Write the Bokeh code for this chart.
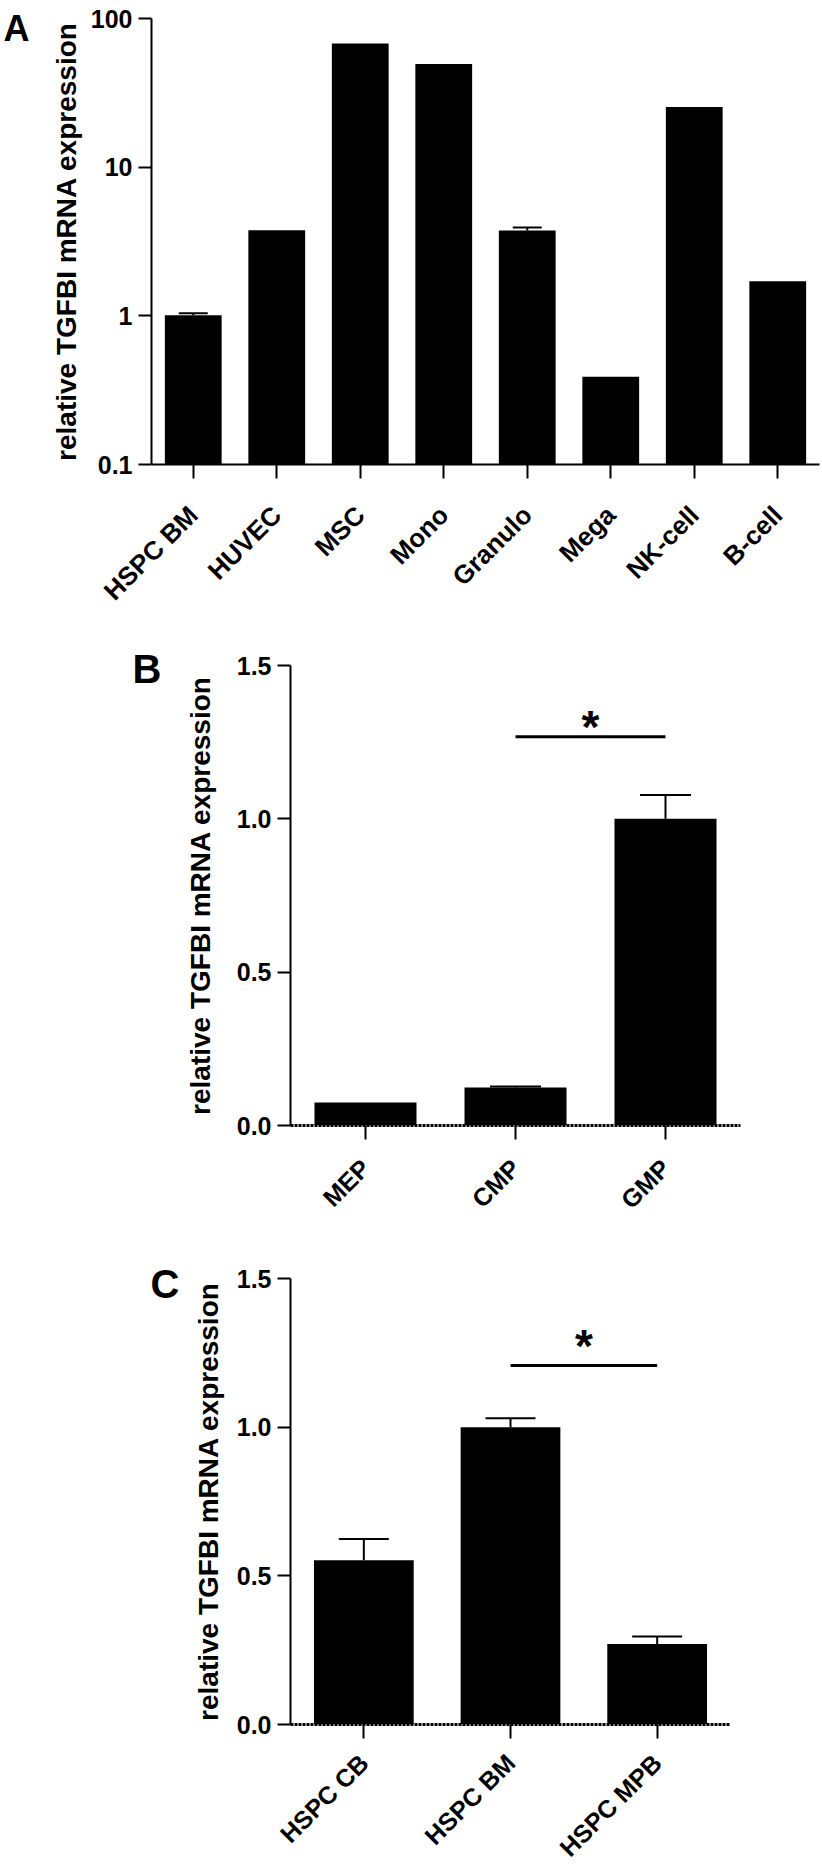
import math
from bokeh.plotting import figure
from bokeh.models import (FactorRange, Range1d, FixedTicker, CustomJSTickFormatter,
                          NumeralTickFormatter, Whisker, TeeHead, ColumnDataSource, LinearAxis)
from bokeh.embed import file_html
from bokeh.resources import INLINE
from bokeh.core.properties import value

FONT = "Liberation Sans"
YLABEL = "relative TGFBI mRNA expression"

# ---- Panel A data (log scale) ----
a_cats = ["HSPC BM", "HUVEC", "MSC", "Mono", "Granulo", "Mega", "NK-cell", "B-cell"]
a_vals = [1.01, 3.77, 68.0, 49.5, 3.75, 0.39, 25.4, 1.71]
a_errs = [0.03, 0.0, 0.0, 0.0, 0.18, 0.0, 0.0, 0.0]
a_ticks = [0.1, 1, 10, 100]

# ---- Panel B data ----
b_cats = ["MEP", "CMP", "GMP"]
b_vals = [0.075, 0.124, 1.0]
b_errs = [0.0, 0.003, 0.078]
b_sig = ["CMP", "GMP"]
b_sig_y = 1.268

# ---- Panel C data ----
c_cats = ["HSPC CB", "HSPC BM", "HSPC MPB"]
c_vals = [0.552, 1.0, 0.271]
c_errs = [0.072, 0.03, 0.025]
c_sig = ["HSPC BM", "HSPC MPB"]
c_sig_y = 1.207

lin_ticks = [0.0, 0.5, 1.0, 1.5]


def panel(cats, vals, errs, ticks, log, width, height, borders, xfont, yfont,
          xstandoff, ylab_standoff, cap, letter, letter_at, letter_standoff, letter_size,
          xaxis_dash=None):
    left, right, top, bottom = borders
    kw = dict(y_axis_type="log") if log else {}
    p = figure(width=width, height=height, x_range=FactorRange(factors=cats),
               y_range=Range1d(ticks[0], ticks[-1]), output_backend="svg",
               toolbar_location=None, min_border_left=left, min_border_right=right,
               min_border_top=top, min_border_bottom=bottom, **kw)
    p.outline_line_color = None
    p.xgrid.visible = False
    p.ygrid.visible = False
    base = ticks[0]
    p.vbar(x=cats, top=vals, bottom=base, width=0.68, fill_color="black", line_color=None)

    eb = [(c, v, v + e) for c, v, e in zip(cats, vals, errs) if e > 0]
    if eb:
        src = ColumnDataSource(dict(base=[t[0] for t in eb], lower=[t[1] for t in eb],
                                    upper=[t[2] for t in eb]))
        w = Whisker(source=src, base="base", lower="lower", upper="upper", dimension="height",
                    line_width=2, line_color="black",
                    upper_head=TeeHead(size=cap, line_width=2, line_color="black"),
                    lower_head=None)
        p.add_layout(w)

    ya = p.yaxis[0]
    ya.ticker = FixedTicker(ticks=ticks, minor_ticks=[])
    if log:
        ya.formatter = CustomJSTickFormatter(code="return String(tick)")
    else:
        ya.formatter = NumeralTickFormatter(format="0.0")
    ya.axis_label = YLABEL
    ya.axis_label_text_font = FONT
    ya.axis_label_text_font_size = "28px"
    ya.axis_label_text_font_style = "bold"
    ya.axis_label_text_color = "black"
    ya.axis_label_standoff = ylab_standoff
    ya.major_label_text_font = FONT
    ya.major_label_text_font_size = yfont
    ya.major_label_text_font_style = "bold"
    ya.major_label_text_color = "black"
    ya.major_label_standoff = 6
    ya.major_tick_out = 13
    ya.major_tick_in = 0
    ya.minor_tick_line_color = None
    ya.axis_line_width = 2
    ya.major_tick_line_width = 2

    xa = p.xaxis[0]
    xa.major_label_orientation = math.pi / 4
    xa.major_label_text_font = FONT
    xa.major_label_text_font_size = xfont
    xa.major_label_text_font_style = "bold"
    xa.major_label_text_color = "black"
    xa.major_label_standoff = xstandoff
    xa.major_tick_out = 14
    xa.major_tick_in = 0
    xa.axis_line_width = 2 if xaxis_dash is None else 3
    if xaxis_dash is not None:
        xa.axis_line_dash = xaxis_dash
    xa.major_tick_line_width = 2

    # panel letter, drawn as the single label of an outer, line-less axis
    la = LinearAxis(ticker=FixedTicker(ticks=[letter_at], minor_ticks=[]),
                    formatter=CustomJSTickFormatter(code="return %r" % letter),
                    axis_line_color=None, major_tick_line_color=None,
                    minor_tick_line_color=None, major_tick_out=0, major_tick_in=0,
                    major_label_standoff=letter_standoff,
                    major_label_text_font=FONT, major_label_text_font_size=letter_size,
                    major_label_text_font_style="bold", major_label_text_color="black")
    p.add_layout(la, "left")
    return p


pA = panel(a_cats, a_vals, a_errs, a_ticks, True, 822, 645, (149, 3, 18, 181),
           "26px", "25px", 32, 6, 29, "A", 86, 18, "36px")

pB = panel(b_cats, b_vals, b_errs, lin_ticks, False, 822, 610, (290, 82, 20, 130),
           "25px", "25px", 24, 18, 51, "B", 1.487, 20, "40px", xaxis_dash="3 1")
pB.segment(x0=[b_sig[0]], y0=[b_sig_y], x1=[b_sig[1]], y1=[b_sig_y], line_width=3, line_color="black")
b_mid = (b_cats.index(b_sig[0]) + b_cats.index(b_sig[1])) / 2 + 0.5
pB.text(x=[b_mid], y=[b_sig_y], text=["*"], text_font=value(FONT), text_font_size="46px",
        text_font_style="bold", text_align="center", text_baseline="alphabetic", y_offset=-10,
        text_color="black")

pC = panel(c_cats, c_vals, c_errs, lin_ticks, False, 822, 620, (290, 92, 23, 151),
           "25px", "25px", 20, 10, 50, "C", 1.481, 10, "40px", xaxis_dash="3 1")
pC.segment(x0=[c_sig[0]], y0=[c_sig_y], x1=[c_sig[1]], y1=[c_sig_y], line_width=3, line_color="black")
c_mid = (c_cats.index(c_sig[0]) + c_cats.index(c_sig[1])) / 2 + 0.5
pC.text(x=[c_mid], y=[c_sig_y], text=["*"], text_font=value(FONT), text_font_size="46px",
        text_font_style="bold", text_align="center", text_baseline="alphabetic", y_offset=-20,
        text_color="black")

open("out.html", "w").write(file_html([pA, pB, pC], INLINE))
